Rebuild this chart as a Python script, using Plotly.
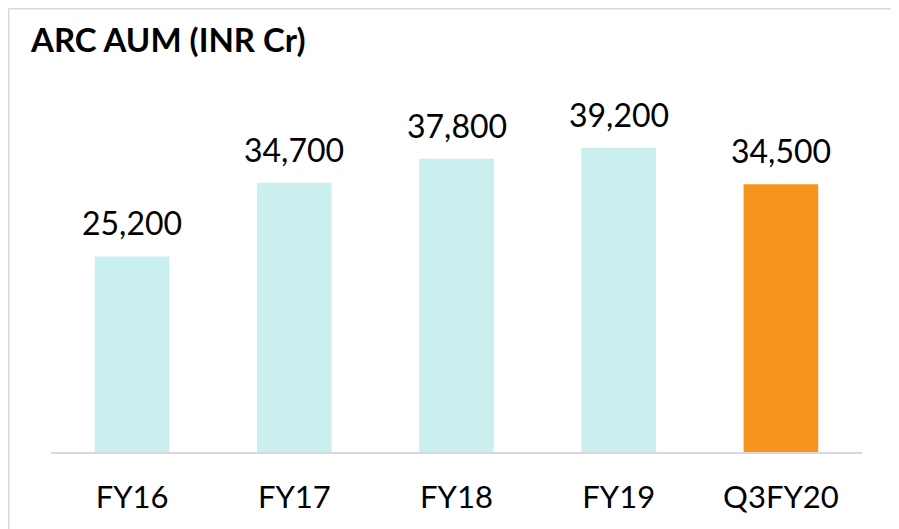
import plotly.graph_objects as go

categories = ["FY16", "FY17", "FY18", "FY19", "Q3FY20"]
values = [25200, 34700, 37800, 39200, 34500]
labels = ["25,200", "34,700", "37,800", "39,200", "34,500"]
colors = ["#C9EFEE", "#C9EFEE", "#C9EFEE", "#C9EFEE", "#F7941E"]

OFF = 8  # page body margin
W, H = 899 - OFF, 529 - OFF
ml, mr, mt, mb = 51 - OFF, 37, 64 - OFF, 77
pw, ph = W - ml - mr, H - mt - mb

def px_x(p):
    return (p - OFF - ml) / pw

def px_y(p):
    return (H - mb - (p - OFF)) / ph

FONT = "Lato, Noto Sans, sans-serif"

fig = go.Figure(go.Bar(
    x=categories, y=values, marker_color=colors, marker_line_width=0,
    hoverinfo="x+y",
))

ann = [dict(x=c, y=v, text=t, xref="x", yref="y", showarrow=False,
            xanchor="center", yanchor="bottom", yshift=12,
            font=dict(size=32, color="#000000", family=FONT))
       for c, v, t in zip(categories, values, labels)]
ann.append(dict(text="<b>ARC AUM (INR Cr)</b>", xref="paper", yref="paper",
                x=px_x(28), y=px_y(39), xanchor="left", yanchor="middle",
                showarrow=False, font=dict(size=33, color="#000000", family=FONT)))

fig.update_layout(
    width=W, height=H,
    margin=dict(l=ml, r=mr, t=mt, b=mb),
    paper_bgcolor="white", plot_bgcolor="white",
    bargap=0.54,
    showlegend=False,
    font=dict(family=FONT, color="#000000"),
    xaxis=dict(showline=True, linecolor="#D9D9D9", linewidth=2, ticks="",
               tickfont=dict(size=31, color="#000000"), showgrid=False,
               ticklabelstandoff=17),
    yaxis=dict(range=[0, 50000], visible=False, showgrid=False),
    annotations=ann,
    shapes=[
        dict(type="line", xref="paper", yref="paper", x0=px_x(8), x1=px_x(899 + 5),
             y0=px_y(8), y1=px_y(8), line=dict(color="#D9D9D9", width=3)),
        dict(type="line", xref="paper", yref="paper", x0=px_x(8), x1=px_x(8),
             y0=px_y(8), y1=px_y(529 + 5), line=dict(color="#D9D9D9", width=3)),
    ],
)

fig.write_html("out.html")
